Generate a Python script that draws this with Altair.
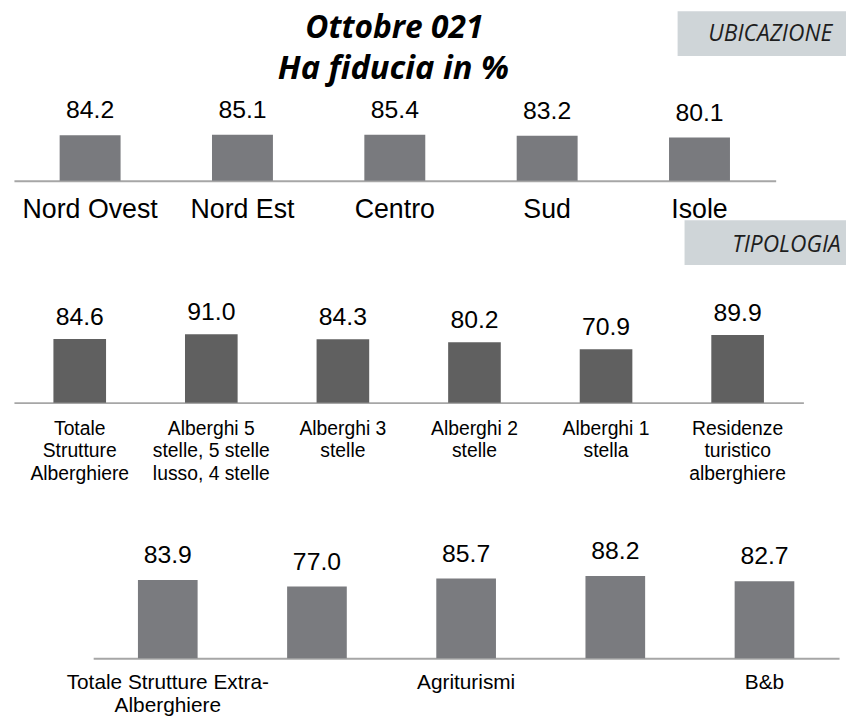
import json
import altair as alt
import pandas as pd

# ---- data ----
title_lines = ["Ottobre 021", "Ha fiducia in %"]
box_labels = ["UBICAZIONE", "TIPOLOGIA"]

cat1 = ["Nord Ovest", "Nord Est", "Centro", "Sud", "Isole"]
val1 = [84.2, 85.1, 85.4, 83.2, 80.1]

cat2 = [
    "Totale\nStrutture\nAlberghiere",
    "Alberghi 5\nstelle, 5 stelle\nlusso, 4 stelle",
    "Alberghi 3\nstelle",
    "Alberghi 2\nstelle",
    "Alberghi 1\nstella",
    "Residenze\nturistico\nalberghiere",
]
val2 = [84.6, 91.0, 84.3, 80.2, 70.9, 89.9]

cat3 = [
    "Totale Strutture Extra-\nAlberghiere",
    "Campeggi e villaggi turistici",
    "Agriturismi",
    "Alloggi in affitto",
    "B&b",
]
val3 = [83.9, 77.0, 85.7, 88.2, 82.7]
hidden3 = ["Campeggi e villaggi turistici", "Alloggi in affitto"]

SANS = "Liberation Sans, Arial, sans-serif"
W, H = 846, 712


def panel(cats, vals, xrange, yrange, color, offset, lab_size, lab_pad, lab_lh, dy, label_expr):
    df = pd.DataFrame({"cat": cats, "val": vals})
    x = alt.X(
        "cat:N",
        sort=cats,
        scale=alt.Scale(range=xrange, paddingInner=0.6, paddingOuter=0.3),
        axis=alt.Axis(
            orient="bottom", offset=offset, title=None, ticks=False, grid=False,
            labelAngle=0, domainColor="#a6a6a6", domainWidth=2,
            labelFont=SANS, labelFontSize=lab_size, labelColor="#000000",
            labelPadding=lab_pad, labelLineHeight=lab_lh, labelExpr=label_expr,
            labelOverlap=False, labelLimit=400,
        ),
    )
    y = alt.Y("val:Q", scale=alt.Scale(domain=[0, 100], range=yrange, nice=False, zero=True), axis=None)
    base = alt.Chart(df).encode(x=x, y=y)
    bars = base.mark_bar(color=color)
    text = base.mark_text(
        baseline="alphabetic", dy=dy, font=SANS, fontSize=25, color="#000000"
    ).encode(text=alt.Text("val:Q", format=".1f"))
    return alt.layer(bars, text)


split_expr = "split(datum.value, '\\n')"
hide_expr = "indexof(%s, datum.value) >= 0 ? '' : split(datum.value, '\\n')" % json.dumps(hidden3).replace('"', "'")

p1 = panel(cat1, val1, [6, 775], [171, 116.5], "#797a7e", 171 - H, 27, 16.5, 30, -17, split_expr)
p2 = panel(cat2, val2, [6, 803], [395, 319], "#606060", 395 - H, 19.5, 17.3, 22.5, -14, split_expr)
p3 = panel(cat3, val3, [86, 839], [653, 559], "#7a7b7f", 653 - H, 21, 14, 23, -17, hide_expr)

annot = pd.DataFrame({"k": [0]})

box1 = alt.Chart(annot).mark_rect(color="#cfd5d8").encode(
    x=alt.value(676), x2=alt.value(846), y=alt.value(0), y2=alt.value(45))
box2 = alt.Chart(annot).mark_rect(color="#cfd5d8").encode(
    x=alt.value(683), x2=alt.value(846), y=alt.value(211), y2=alt.value(256))

box1_t = alt.Chart(annot).mark_text(
    text=box_labels[0], font="Open Sans", fontStyle="italic", fontSize=23,
    color="#1e1e1e", align="center", baseline="alphabetic"
).encode(x=alt.value(769.5), y=alt.value(30))
box2_t = alt.Chart(annot).mark_text(
    text=box_labels[1], font="Open Sans", fontStyle="italic", fontSize=23,
    color="#1e1e1e", align="center", baseline="alphabetic"
).encode(x=alt.value(786), y=alt.value(243))

t1 = alt.Chart(annot).mark_text(
    text=title_lines[0], font="Open Sans", fontStyle="italic", fontWeight="bold",
    fontSize=32, color="#000000", align="center", baseline="alphabetic"
).encode(x=alt.value(390), y=alt.value(27))
t2 = alt.Chart(annot).mark_text(
    text=title_lines[1], font="Open Sans", fontStyle="italic", fontWeight="bold",
    fontSize=33, color="#000000", align="center", baseline="alphabetic"
).encode(x=alt.value(389), y=alt.value(68))

chart = (
    alt.layer(p1, p2, p3, box1, box2, box1_t, box2_t, t1, t2)
    .resolve_scale(x="independent", y="independent")
    .properties(width=W, height=H, padding=0, autosize=alt.AutoSizeParams(type="none"))
    .configure_view(stroke=None)
)

chart.save("out.html", embed_options={"renderer": "svg", "actions": False})
